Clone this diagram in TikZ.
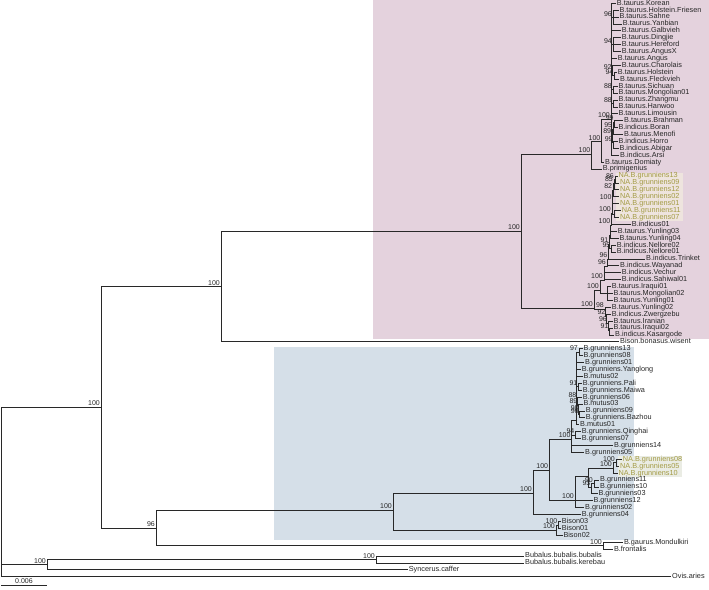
\documentclass[tikz,border=0pt]{standalone}
\usepackage{fontspec}
\setmainfont{Liberation Sans}
\definecolor{pinkbg}{RGB}{228,210,221}
\definecolor{bluebg}{RGB}{213,223,232}
\definecolor{nabg}{RGB}{238,228,222}
\definecolor{nabgb}{RGB}{234,236,228}
\definecolor{natext}{RGB}{163,155,68}
\definecolor{brc}{RGB}{40,40,40}
\tikzset{
 br/.style={draw=brc, line width=0.85pt},
 lf/.style={anchor=west, inner sep=0.8pt, font=\fontsize{7.3}{7.3}\selectfont, text height=5.2pt, text depth=1.5pt, text=black!85},
 nalf/.style={lf, text=natext},
 bs/.style={anchor=south east, inner sep=0pt, xshift=-1pt, yshift=0.8pt, font=\fontsize{7}{7}\selectfont, text=black!85}
}
\begin{document}
\begin{tikzpicture}[x=1pt,y=-1pt]
\useasboundingbox (0,0) rectangle (709,589);
\fill[pinkbg] (373,0) rectangle (709,339);
\fill[bluebg] (274,347) rectangle (634,540);
\fill[nabg] (616,172.5) rectangle (683,221);
\fill[nabgb] (618,455.8) rectangle (682,476.8);
% ---------- internal nodes ----------
\coordinate (root) at (1.5,490);
\coordinate (nA) at (101,407);
\coordinate (nB) at (221,286.5);
\coordinate (R) at (521,231);
\coordinate (U) at (591.5,154);
\coordinate (T1) at (601.5,141.7);
\coordinate (T2) at (611,119);
\coordinate (N96) at (613,17.1);
\coordinate (N94) at (613,44.8);
\coordinate (N92) at (612.8,70.7);
\coordinate (N94b) at (614.5,75.9);
\coordinate (N88a) at (613,89.6);
\coordinate (N88b) at (613,103.5);
\coordinate (N89) at (612.3,135);
\coordinate (N95) at (613.3,129);
\coordinate (N99a) at (614.8,122);
\coordinate (N99b) at (613.8,142.5);
\coordinate (L) at (594,308);
\coordinate (L1) at (600,290);
\coordinate (L4) at (607.5,293.5);
\coordinate (P6) at (604,280);
\coordinate (P5) at (607,266);
\coordinate (P4) at (608.5,259);
\coordinate (P3) at (609.5,244);
\coordinate (N95n) at (611.5,248.7);
\coordinate (P2) at (610.5,235);
\coordinate (P1) at (611.5,225);
\coordinate (NAc) at (612,213);
\coordinate (N100c) at (614,214);
\coordinate (N100a) at (612.7,201);
\coordinate (N82) at (613.3,190);
\coordinate (N85) at (614,183);
\coordinate (N86) at (615,179.5);
\coordinate (L2) at (605,309);
\coordinate (L2b) at (606.5,316);
\coordinate (L2c) at (608,323);
\coordinate (L2d) at (609.5,330);
\coordinate (nC) at (156,528);
\coordinate (Rb) at (393,510);
\coordinate (Y0) at (533,493);
\coordinate (Y1) at (549.3,470);
\coordinate (Y2) at (571.7,439);
\coordinate (YS) at (576.5,420);
\coordinate (N97) at (579,352);
\coordinate (N91b) at (578.5,386.8);
\coordinate (N88c) at (577.5,399);
\coordinate (N89b) at (578.5,405);
\coordinate (N96c) at (579.8,414.4);
\coordinate (QG) at (575.5,435);
\coordinate (Y4) at (575,500);
\coordinate (Y5) at (588.3,476);
\coordinate (Y6) at (613,468);
\coordinate (Y6a) at (616,462.8);
\coordinate (Y7) at (591.5,487);
\coordinate (Y7a) at (594,483.5);
\coordinate (Bi) at (556,530);
\coordinate (Bi2) at (558.5,525);
\coordinate (G) at (603,545.8);
\coordinate (nBub) at (47,564.8);
\coordinate (Bb) at (376,559.5);
% ---------- leaves ----------
\node[lf] (l0) at (615.9,3.3) {B.taurus.Korean};
\node[lf] (l1) at (618.5,10.2) {B.taurus.Holstein.Friesen};
\node[lf] (l2) at (618.5,17.1) {B.taurus.Sahne};
\node[lf] (l3) at (621.9,24.0) {B.taurus.Yanbian};
\node[lf] (l4) at (620.9,30.9) {B.taurus.Galbvieh};
\node[lf] (l5) at (620.9,37.9) {B.taurus.Dingjie};
\node[lf] (l6) at (620.9,44.8) {B.taurus.Hereford};
\node[lf] (l7) at (620.9,51.7) {B.taurus.AngusX};
\node[lf] (l8) at (616.9,58.6) {B.taurus.Angus};
\node[lf] (l9) at (620.9,65.5) {B.taurus.Charolais};
\node[lf] (l10) at (616.9,72.4) {B.taurus.Holstein};
\node[lf] (l11) at (619.2,79.3) {B.taurus.Fleckvieh};
\node[lf] (l12) at (617.5,86.2) {B.taurus.Sichuan};
\node[lf] (l13) at (617.5,93.1) {B.taurus.Mongolian01};
\node[lf] (l14) at (617.5,100.0) {B.taurus.Zhangmu};
\node[lf] (l15) at (617.5,107.0) {B.taurus.Hanwoo};
\node[lf] (l16) at (617.5,113.9) {B.taurus.Limousin};
\node[lf] (l17) at (623.2,120.8) {B.taurus.Brahman};
\node[lf] (l18) at (617.5,127.7) {B.indicus.Boran};
\node[lf] (l19) at (623.2,134.6) {B.taurus.Menofi};
\node[lf] (l20) at (617.5,141.5) {B.indicus.Horro};
\node[lf] (l21) at (618.5,148.4) {B.indicus.Abigar};
\node[lf] (l22) at (619.2,155.3) {B.indicus.Arsi};
\node[lf] (l23) at (604.2,162.2) {B.taurus.Domiaty};
\node[lf] (l24) at (601.9,169.1) {B.primigenius};
\node[nalf] (l25) at (617.5,176.1) {NA.B.grunniens13};
\node[nalf] (l26) at (619.2,183.0) {NA.B.grunniens09};
\node[nalf] (l27) at (619.2,189.9) {NA.B.grunniens12};
\node[nalf] (l28) at (619.2,196.8) {NA.B.grunniens02};
\node[nalf] (l29) at (619.2,203.7) {NA.B.grunniens01};
\node[nalf] (l30) at (620.9,210.6) {NA.B.grunniens11};
\node[nalf] (l31) at (619.2,217.5) {NA.B.grunniens07};
\node[lf] (l32) at (630.9,224.4) {B.indicus01};
\node[lf] (l33) at (616.9,231.3) {B.taurus.Yunling03};
\node[lf] (l34) at (618.5,238.2) {B.taurus.Yunling04};
\node[lf] (l35) at (615.9,245.2) {B.indicus.Nellore02};
\node[lf] (l36) at (615.9,252.1) {B.indicus.Nellore01};
\node[lf] (l37) at (645.2,259.0) {B.indicus.Trinket};
\node[lf] (l38) at (619.2,265.9) {B.indicus.Wayanad};
\node[lf] (l39) at (620.9,272.8) {B.indicus.Vechur};
\node[lf] (l40) at (620.9,279.7) {B.indicus.Sahiwal01};
\node[lf] (l41) at (610.9,286.6) {B.taurus.Iraqui01};
\node[lf] (l42) at (612.5,293.5) {B.taurus.Mongolian02};
\node[lf] (l43) at (612.5,300.4) {B.taurus.Yunling01};
\node[lf] (l44) at (610.9,307.3) {B.taurus.Yunling02};
\node[lf] (l45) at (610.9,314.2) {B.indicus.Zwergzebu};
\node[lf] (l46) at (612.5,321.2) {B.taurus.Iranian};
\node[lf] (l47) at (612.5,328.1) {B.taurus.Iraqui02};
\node[lf] (l48) at (614.2,335.0) {B.indicus.Kasargode};
\node[lf] (l49) at (619.2,341.9) {Bison.bonasus.wisent};
\node[lf] (l50) at (582.5,348.8) {B.grunniens13};
\node[lf] (l51) at (582.5,355.7) {B.grunniens08};
\node[lf] (l52) at (584.2,362.6) {B.grunniens01};
\node[lf] (l53) at (580.9,369.5) {B.grunniens.Yanglong};
\node[lf] (l54) at (582.5,376.4) {B.mutus02};
\node[lf] (l55) at (581.9,383.4) {B.grunniens.Pali};
\node[lf] (l56) at (581.9,390.3) {B.grunniens.Maiwa};
\node[lf] (l57) at (581.9,397.2) {B.grunniens06};
\node[lf] (l58) at (582.5,404.1) {B.mutus03};
\node[lf] (l59) at (584.9,411.0) {B.grunniens09};
\node[lf] (l60) at (584.9,417.9) {B.grunniens.Bazhou};
\node[lf] (l61) at (579.2,424.8) {B.mutus01};
\node[lf] (l62) at (580.9,431.7) {B.grunniens.Qinghai};
\node[lf] (l63) at (580.9,438.6) {B.grunniens07};
\node[lf] (l64) at (613.2,445.5) {B.grunniens14};
\node[lf] (l65) at (584.2,452.5) {B.grunniens05};
\node[nalf] (l66) at (621.9,459.4) {NA.B.grunniens08};
\node[nalf] (l67) at (619.2,466.3) {NA.B.grunniens05};
\node[nalf] (l68) at (617.5,473.2) {NA.B.grunniens10};
\node[lf] (l69) at (599.2,480.1) {B.grunniens11};
\node[lf] (l70) at (599.2,487.0) {B.grunniens10};
\node[lf] (l71) at (597.5,493.9) {B.grunniens03};
\node[lf] (l72) at (592.5,500.8) {B.grunniens12};
\node[lf] (l73) at (584.2,507.7) {B.grunniens02};
\node[lf] (l74) at (580.9,514.6) {B.grunniens04};
\node[lf] (l75) at (560.9,521.6) {Bison03};
\node[lf] (l76) at (560.9,528.5) {Bison01};
\node[lf] (l77) at (562.5,535.4) {Bison02};
\node[lf] (l78) at (623,542.3) {B.gaurus.Mondulkiri};
\node[lf] (l79) at (613,549.2) {B.frontalis};
\node[lf] (l80) at (524.2,556.1) {Bubalus.bubalis.bubalis};
\node[lf] (l81) at (524.2,563.0) {Bubalus.bubalis.kerebau};
\node[lf] (l82) at (407.8,569.9) {Syncerus.caffer};
\node[lf] (l83) at (671.2,576.8) {Ovis.aries};
% ---------- branches ----------
\draw[br] (root) |- (nA); \draw[br] (root) |- (nBub); \draw[br] (root) |- (l83.west);
\draw[br] (nA) |- (nB); \draw[br] (nA) |- (nC);
\draw[br] (nB) |- (R); \draw[br] (nB) |- (l49.west);
\draw[br] (R) |- (U); \draw[br] (R) |- (L);
\draw[br] (U) |- (T1); \draw[br] (U) |- (l24.west);
\draw[br] (T1) |- (T2); \draw[br] (T1) |- (l23.west);
\foreach \c in {l0.west,N96,l4.west,N94,l8.west,N92,N88a,N88b,l16.west,N89,l22.west} \draw[br] (T2) |- (\c);
\foreach \c in {l1,l2,l3} \draw[br] (N96) |- (\c.west);
\foreach \c in {l5,l6,l7} \draw[br] (N94) |- (\c.west);
\draw[br] (N92) |- (l9.west); \draw[br] (N92) |- (N94b);
\draw[br] (N94b) |- (l10.west); \draw[br] (N94b) |- (l11.west);
\draw[br] (N88a) |- (l12.west); \draw[br] (N88a) |- (l13.west);
\draw[br] (N88b) |- (l14.west); \draw[br] (N88b) |- (l15.west);
\draw[br] (N89) |- (N95); \draw[br] (N89) |- (N99b);
\draw[br] (N95) |- (N99a); \draw[br] (N95) |- (l19.west);
\draw[br] (N99a) |- (l17.west); \draw[br] (N99a) |- (l18.west);
\draw[br] (N99b) |- (l20.west); \draw[br] (N99b) |- (l21.west);
\draw[br] (L) |- (L1); \draw[br] (L) |- (L2);
\draw[br] (L1) |- (P6); \draw[br] (L1) |- (L4);
\foreach \c in {l41,l42,l43} \draw[br] (L4) |- (\c.west);
\draw[br] (P6) |- (P5); \draw[br] (P6) |- (l39.west); \draw[br] (P6) |- (l40.west);
\draw[br] (P5) |- (P4); \draw[br] (P5) |- (l38.west);
\draw[br] (P4) |- (P3); \draw[br] (P4) |- (l37.west);
\draw[br] (P3) |- (P2); \draw[br] (P3) |- (N95n);
\draw[br] (N95n) |- (l35.west); \draw[br] (N95n) |- (l36.west);
\draw[br] (P2) |- (P1); \draw[br] (P2) |- (l33.west); \draw[br] (P2) |- (l34.west);
\draw[br] (P1) |- (NAc); \draw[br] (P1) |- (l32.west);
\draw[br] (NAc) |- (N100a); \draw[br] (NAc) |- (N100c);
\draw[br] (N100c) |- (l30.west); \draw[br] (N100c) |- (l31.west);
\draw[br] (N100a) |- (N82); \draw[br] (N100a) |- (l29.west);
\draw[br] (N82) |- (N85); \draw[br] (N82) |- (l28.west);
\draw[br] (N85) |- (N86); \draw[br] (N85) |- (l27.west);
\draw[br] (N86) |- (l25.west); \draw[br] (N86) |- (l26.west);
\draw[br] (L2) |- (l44.west); \draw[br] (L2) |- (L2b);
\draw[br] (L2b) |- (l45.west); \draw[br] (L2b) |- (L2c);
\draw[br] (L2c) |- (l46.west); \draw[br] (L2c) |- (L2d);
\draw[br] (L2d) |- (l47.west); \draw[br] (L2d) |- (l48.west);
\draw[br] (nC) |- (Rb); \draw[br] (nC) |- (G);
\draw[br] (Rb) |- (Y0); \draw[br] (Rb) |- (Bi);
\draw[br] (Y0) |- (Y1); \draw[br] (Y0) |- (l74.west);
\draw[br] (Y1) |- (Y2); \draw[br] (Y1) |- (Y4);
\draw[br] (Y2) |- (YS); \draw[br] (Y2) |- (QG); \draw[br] (Y2) |- (l64.west); \draw[br] (Y2) |- (l65.west);
\foreach \c in {N97,l52.west,l53.west,l54.west,N91b,N88c,l61.west} \draw[br] (YS) |- (\c);
\draw[br] (N97) |- (l50.west); \draw[br] (N97) |- (l51.west);
\draw[br] (N91b) |- (l55.west); \draw[br] (N91b) |- (l56.west);
\draw[br] (N88c) |- (l57.west); \draw[br] (N88c) |- (N89b);
\draw[br] (N89b) |- (l58.west); \draw[br] (N89b) |- (N96c);
\draw[br] (N96c) |- (l59.west); \draw[br] (N96c) |- (l60.west);
\draw[br] (QG) |- (l62.west); \draw[br] (QG) |- (l63.west);
\draw[br] (Y4) |- (Y5); \draw[br] (Y4) |- (l72.west); \draw[br] (Y4) |- (l73.west);
\draw[br] (Y5) |- (Y6); \draw[br] (Y5) |- (Y7);
\draw[br] (Y6) |- (Y6a); \draw[br] (Y6) |- (l68.west);
\draw[br] (Y6a) |- (l66.west); \draw[br] (Y6a) |- (l67.west);
\draw[br] (Y7) |- (Y7a); \draw[br] (Y7) |- (l71.west);
\draw[br] (Y7a) |- (l69.west); \draw[br] (Y7a) |- (l70.west);
\draw[br] (Bi) |- (Bi2); \draw[br] (Bi) |- (l77.west);
\draw[br] (Bi2) |- (l75.west); \draw[br] (Bi2) |- (l76.west);
\draw[br] (G) |- (l78.west); \draw[br] (G) |- (l79.west);
\draw[br] (nBub) |- (Bb); \draw[br] (nBub) |- (l82.west);
\draw[br] (Bb) |- (l80.west); \draw[br] (Bb) |- (l81.west);
% ---------- support values ----------
\foreach \n/\v [count=\k] in {nA/100,nB/100,R/100,U/100,T1/100,T2/100,N96/96,N94/94,N92/92,N94b/94,N88a/88,N88b/88,N89/89,N95/95,N99a/99,N99b/99,L/100,L1/100,P6/100,P5/96,P4/96,P3/91,N95n/95,P1/100,NAc/100,N100a/100,N82/82,N85/85,N86/86,L2/98,L2b/92,L2c/96,L2d/91,nC/96,Rb/100,Y0/100,Y1/100,Y2/100,N97/97,N91b/91,N88c/88,N89b/89,N96c/96,QG/94,Y4/100,Y6/100,Y6a/100,Y7/93,Y7a/90,Bi/100,Bi2/100,G/100,nBub/100,Bb/100}
  \node[bs] (bs\k) at (\n) {\v};
\node[bs, yshift=3pt] (bsx) at (N96c) {98};
% ---------- scale bar ----------
\coordinate (sb1) at (1,585.5);
\coordinate (sb2) at (47,585.5);
\draw[br] (sb1) -- (sb2);
\node[anchor=south, inner sep=0pt, font=\fontsize{7}{7}\selectfont, text=black!85] (sbl) at (24,583.5) {0.006};
\end{tikzpicture}
\end{document}
